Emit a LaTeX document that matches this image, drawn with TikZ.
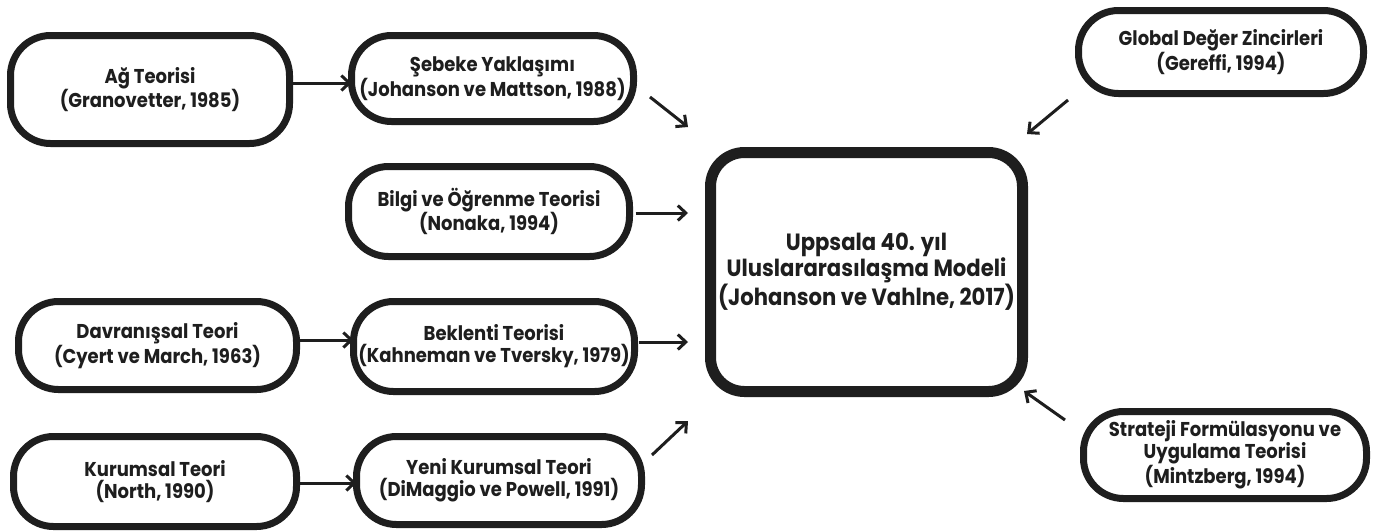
\documentclass[tikz,border=0pt]{standalone}
\usepackage{fontspec}
\setmainfont{Poppins}[FakeStretch=0.9]
\usetikzlibrary{arrows.meta}
\definecolor{ink}{HTML}{1E1E1E}
\begin{document}
\begin{tikzpicture}[x=1pt,y=-1pt,
  box/.style={draw=ink, line width=7pt, rounded corners=40pt, fill=white,
    align=center, text=ink, inner sep=0pt, outer sep=0pt,
    font=\bfseries\fontsize{20}{22}\selectfont},
  bigbox/.style={draw=ink, line width=11pt, rounded corners=34pt, fill=white,
    align=center, text=ink, inner sep=0pt, outer sep=0pt,
    font=\bfseries\fontsize{23.5}{22}\selectfont},
  arr/.style={draw=ink, line width=3pt,
    -{Straight Barb[length=8pt,width=15pt]}}
]
\useasboundingbox[fill=white] (0,0) rectangle (1373,531);

% left column
\node[box, minimum width=279pt, minimum height=108pt] (ag) at (150,89.5)
  {Ağ Teorisi\\(Granovetter, 1985)};
\node[box, minimum width=278pt, minimum height=88pt] (dav) at (157.5,345.5)
  {Davranışsal Teori\\(Cyert ve March, 1963)};
\node[box, minimum width=283pt, minimum height=90pt] (kur) at (155,481.5)
  {Kurumsal Teori\\(North, 1990)};

% middle column
\node[box, minimum width=282pt, minimum height=86pt] (seb) at (492.5,78.5)
  {Şebeke Yaklaşımı\\(Johanson ve Mattson, 1988)};
\node[box, minimum width=281pt, minimum height=90pt] (bil) at (489,211.5)
  {Bilgi ve Öğrenme Teorisi\\(Nonaka, 1994)};
\node[box, minimum width=281pt, minimum height=90pt] (bek) at (494,346.5)
  {Beklenti Teorisi\\(Kahneman ve Tversky, 1979)};
\node[box, minimum width=285pt, minimum height=88pt] (yeni) at (499,480.5)
  {Yeni Kurumsal Teori\\(DiMaggio ve Powell, 1991)};

% center
\node[bigbox, minimum width=312pt, minimum height=239pt] (up) at (866.5,272)
  {Uppsala 40. yıl\\Uluslararasılaşma Modeli\\(Johanson ve Vahlne, 2017)};

% right column
\node[box, minimum width=285pt, minimum height=83pt] (glob) at (1221,52)
  {Global Değer Zincirleri\\(Gereffi, 1994)};
\node[box, minimum width=283pt, minimum height=87pt] (str) at (1225,455)
  {Strateji Formülasyonu ve\\Uygulama Teorisi\\(Mintzberg, 1994)};

% free ends of the diagonal arrows
\coordinate (sebT) at (650,97);
\coordinate (sebH) at (688,127);
\coordinate (yeniT) at (652,455);
\coordinate (yeniH) at (688,421);
\coordinate (globT) at (1068,100);
\coordinate (globH) at (1027,134);
\coordinate (strT) at (1065,420);
\coordinate (strH) at (1024,391);
\coordinate (bilH) at (688,213);
\coordinate (bekH) at (688,342);

% connectors
\draw[arr] (ag.east |- 0,83) -- (seb.west |- 0,83);
\draw[arr] (dav.east |- 0,340) -- (bek.west |- 0,340);
\draw[arr] (kur.east |- 0,483) -- (yeni.west |- 0,483);
\draw[arr] ([xshift=6pt]bil.east |- bilH) -- (bilH);
\draw[arr] ([xshift=4pt]bek.east |- bekH) -- (bekH);
\draw[arr] (sebT) -- (sebH);
\draw[arr] (yeniT) -- (yeniH);
\draw[arr] (globT) -- (globH);
\draw[arr] (strT) -- (strH);
\end{tikzpicture}
\end{document}
